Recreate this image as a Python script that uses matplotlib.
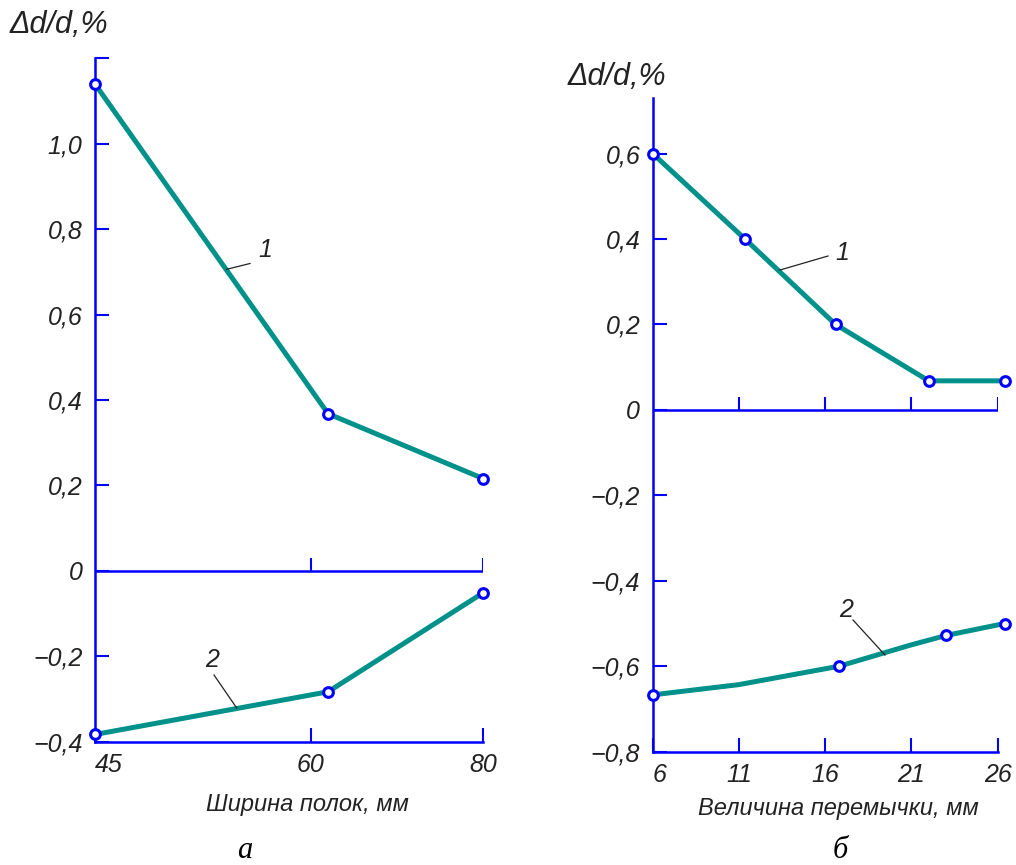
import numpy as np
import matplotlib.pyplot as plt

# panel a: Ширина полок
a_x = [45, 62, 80]
a1_y = [1.14, 0.368, 0.216]
a2_y = [-0.383, -0.283, -0.051]
a_xticks = [45, 60, 80]

# panel b: Величина перемычки
b1_x = [6, 11.35, 16.6, 22.0, 26.4]
b1_y = [0.6, 0.4, 0.2, 0.068, 0.068]
b2_x = [6, 11.0, 16.8, 20.9, 23.0, 26.4]
b2_y = [-0.667, -0.643, -0.6, -0.551, -0.528, -0.5]
b2_marks = [0, 2, 4, 5]
b_xticks = [6, 11, 16, 21, 26]

LINE = '#00918B'
AXC = '#0000FF'
FONT = ['Liberation Sans', 'DejaVu Sans']
FS = 18


def fwd(x):
    x = np.asarray(x, dtype=float)
    return np.where(x < 60, (x - 45) * 216.0 / 15, 216.0 + (x - 60) * 172.6 / 20)


def inv(p):
    p = np.asarray(p, dtype=float)
    return np.where(p < 216.0, 45 + p * 15 / 216.0, 60 + (p - 216.0) * 20 / 172.6)


def fmt(v):
    if abs(v) < 1e-9:
        return '0'
    s = f"{abs(v):.1f}".replace('.', ',')
    return ('−' + s) if v < 0 else s


def style_axes(ax, yticks, ylabels, xticks):
    for s in ['top', 'right']:
        ax.spines[s].set_visible(False)
    for s in ['left', 'bottom']:
        ax.spines[s].set_color(AXC)
        ax.spines[s].set_linewidth(1.8)
    ax.set_yticks(yticks)
    ax.set_yticklabels(ylabels, family=FONT, style='italic', fontsize=FS, color='#222222')
    ax.set_xticks(xticks)
    ax.set_xticklabels([str(t) for t in xticks], family=FONT, style='italic',
                       fontsize=FS, color='#222222')
    ax.tick_params(axis='y', direction='in', length=10, width=1.5, color=AXC, pad=9)
    ax.tick_params(axis='x', direction='in', length=10, width=1.5, color=AXC, pad=8)
    ax.get_xticklabels()[0].set_ha('left')
    # zero line with its own small ticks
    ax.axhline(0, color=AXC, lw=1.8)
    ax.vlines(xticks[1:], 0, 0.03, color=AXC, lw=1.5)
    ax.patch.set_alpha(0)


def curve(ax, x, y, marks=None):
    ax.plot(x, y, color=LINE, lw=3.6, solid_capstyle='round', zorder=3, clip_on=False)
    if marks is None:
        mx, my = x, y
    else:
        mx, my = [x[i] for i in marks], [y[i] for i in marks]
    ax.plot(mx, my, 'o', ms=7, mfc='white', mec=AXC, mew=2.2, zorder=4, clip_on=False)


fig = plt.figure(figsize=(10.16, 8.65), dpi=100)

ax1 = fig.add_axes([0.0935, 0.1425, 0.3822, 0.790])
ax1.set_xscale('function', functions=(fwd, inv))
ax1.set_xlim(45, 80)
ax1.set_ylim(-0.4, 1.2)
yt1 = np.round(np.arange(-0.4, 1.21, 0.2), 1)
style_axes(ax1, yt1, [fmt(v) if v < 1.1 else '' for v in yt1], a_xticks)
curve(ax1, a_x, a1_y)
curve(ax1, a_x, a2_y)

ax2 = fig.add_axes([0.6424, 0.131, 0.3396, 0.7557])
ax2.set_xlim(6, 26)
ax2.set_ylim(-0.8, 0.73)
yt2 = np.round(np.arange(-0.8, 0.61, 0.2), 1)
style_axes(ax2, yt2, [fmt(v) for v in yt2], b_xticks)
curve(ax2, b1_x, b1_y)
curve(ax2, b2_x, b2_y, b2_marks)

# curve numbers with leader lines (figure pixels, y from top)
H = 865.0
W = 1016.0


def leader(x0, y0, x1, y1, label, tx, ty):
    fig.add_artist(plt.Line2D([x0 / W, x1 / W], [1 - y0 / H, 1 - y1 / H],
                              color='#222222', lw=0.9))
    fig.text(tx / W, 1 - ty / H, label, family=FONT, style='italic', fontsize=FS,
             color='#222222', ha='center', va='center')


leader(226.7, 269.3, 250, 263.5, '1', 265, 250)
leader(236.7, 708, 214, 675, '2', 212, 660)
leader(780, 270, 828, 256, '1', 842, 253)
leader(885, 655, 853, 620, '2', 846, 610)

fig.text(10 / W, 1 - 25 / H, 'Δd/d,%', family=FONT, style='italic', fontsize=22,
         color='#222222', ha='left', va='center')
fig.text(568 / W, 1 - 77 / H, 'Δd/d,%', family=FONT, style='italic', fontsize=22,
         color='#222222', ha='left', va='center')

fig.text(307 / W, 1 - 805 / H, 'Ширина полок, мм', family=FONT, style='italic',
         fontsize=17, color='#222222', ha='center', va='center')
fig.text(838 / W, 1 - 808 / H, 'Величина перемычки, мм', family=FONT, style='italic',
         fontsize=17, color='#222222', ha='center', va='center')

fig.text(245 / W, 1 - 850 / H, 'а', family=['Liberation Serif', 'DejaVu Serif'],
         style='italic', fontsize=22, color='black', ha='center', va='center')
fig.text(840 / W, 1 - 850 / H, 'б', family=['Liberation Serif', 'DejaVu Serif'],
         style='italic', fontsize=22, color='black', ha='center', va='center')

fig.savefig('out.png', dpi=100, facecolor='white')
